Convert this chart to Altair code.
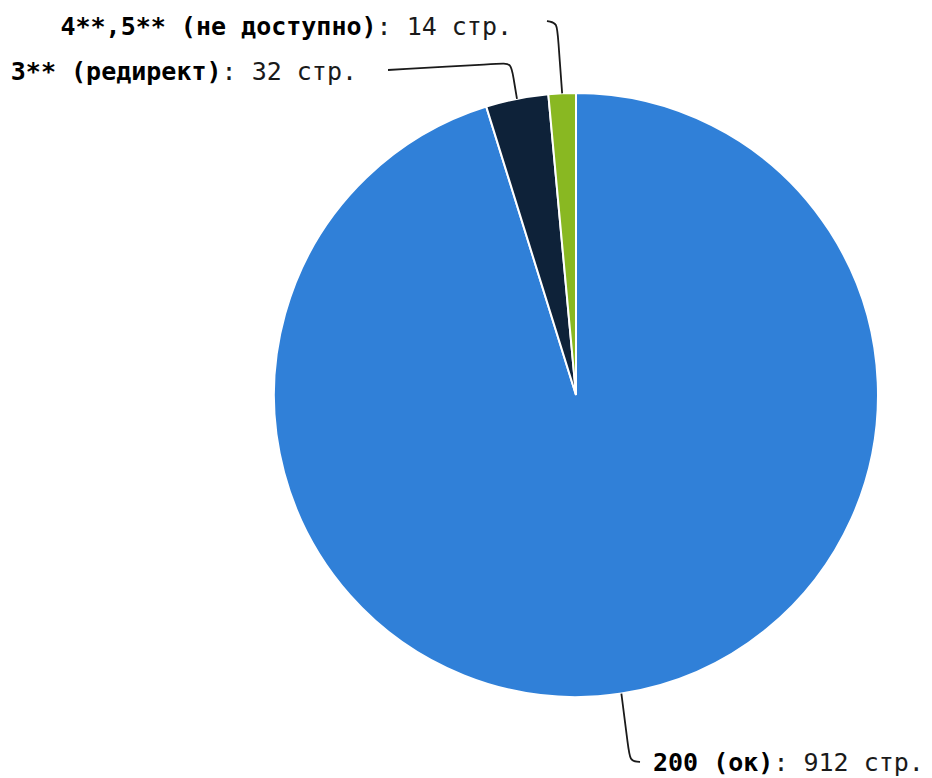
import math
import altair as alt
import pandas as pd

# ---- data ----
names = ["200 (ок)", "3** (редирект)", "4**,5** (не доступно)"]
counts = [912, 32, 14]
unit = "стр."
colors = ["#3080d8", "#0e2239", "#89b822"]

# ---- layout ----
W, H = 916, 770
CX, CY, R = 568, 387, 302
FS = 25
CW = FS * 1233 / 2048  # DejaVu Sans Mono advance width

# label layout per slice: side of text relative to anchor, anchor x, anchor y,
# connector corner and connector end
layout = [
    dict(side="right", ax=645, ay=755, corner=(622, 753), end=(632, 754)),
    dict(side="left", ax=349, ay=64, corner=(503, 55), end=(380, 62)),
    dict(side="left", ax=504, ay=19, corner=(549, 15), end=(539, 13)),
]

total = sum(counts)
pie_df = pd.DataFrame({"name": names, "count": counts, "idx": list(range(len(names)))})

conn_rows = []
bold_rows = []
reg_rows = []
cum = 0
for i, (nm, v) in enumerate(zip(names, counts)):
    mid = (cum + v / 2) / total * 2 * math.pi
    cum += v
    ex = CX + R * math.sin(mid)
    ey = CY - R * math.cos(mid)
    lay = layout[i]
    cx, cy = lay["corner"]
    lx, ly = lay["end"]
    d1 = math.hypot(ex - cx, ey - cy)
    d2 = math.hypot(lx - cx, ly - cy)
    k1 = min(14, d1 * 0.5)
    k2 = min(10, d2 * 0.8)
    p1 = (cx + (ex - cx) / d1 * k1, cy + (ey - cy) / d1 * k1)
    p2 = (cx + (lx - cx) / d2 * k2, cy + (ly - cy) / d2 * k2)
    pts = [(ex, ey), p1, (cx, cy), p2, (lx, ly)]
    for s, (px, py) in enumerate(pts):
        conn_rows.append({"name": nm, "seq": s, "x": px, "y": py})
    regular = f": {v} {unit}"
    n_total = len(nm) + len(regular)
    if lay["side"] == "right":
        start = lay["ax"]
    else:
        start = lay["ax"] - n_total * CW
    bold_rows.append({"name": nm, "x": start, "y": lay["ay"], "t": nm})
    reg_rows.append({"name": nm, "x": start + len(nm) * CW, "y": lay["ay"], "t": regular})

conn_df = pd.DataFrame(conn_rows)
bold_df = pd.DataFrame(bold_rows)
reg_df = pd.DataFrame(reg_rows)

xs = alt.Scale(domain=[0, W], nice=False, zero=False)
ys = alt.Scale(domain=[0, H], nice=False, zero=False, reverse=True)

pie = alt.Chart(pie_df).mark_arc(outerRadius=R, stroke="white", strokeWidth=2).encode(
    theta=alt.Theta("count:Q", stack=True),
    color=alt.Color("name:N", scale=alt.Scale(domain=names, range=colors), legend=None),
    order=alt.Order("idx:Q"),
    x=alt.value(CX),
    y=alt.value(CY),
)

conn = alt.Chart(conn_df).mark_line(interpolate="basis", color="#1a1a1a", strokeWidth=1.8).encode(
    x=alt.X("x:Q", scale=xs, axis=None),
    y=alt.Y("y:Q", scale=ys, axis=None),
    detail="name:N",
    order="seq:Q",
)

bold_txt = alt.Chart(bold_df).mark_text(
    align="left", baseline="middle", font="DejaVu Sans Mono", fontSize=FS,
    fontWeight="bold", color="#000000"
).encode(
    x=alt.X("x:Q", scale=xs, axis=None),
    y=alt.Y("y:Q", scale=ys, axis=None),
    text="t:N",
)

reg_txt = alt.Chart(reg_df).mark_text(
    align="left", baseline="middle", font="DejaVu Sans Mono", fontSize=FS,
    fontWeight="normal", color="#1a1a1a"
).encode(
    x=alt.X("x:Q", scale=xs, axis=None),
    y=alt.Y("y:Q", scale=ys, axis=None),
    text="t:N",
)

chart = alt.layer(pie, conn, bold_txt, reg_txt).properties(
    width=W, height=H, autosize=alt.AutoSizeParams(type="none"), padding=0
).configure_view(stroke=None)

chart.save("out.html", embed_options={"renderer": "svg", "actions": False})
